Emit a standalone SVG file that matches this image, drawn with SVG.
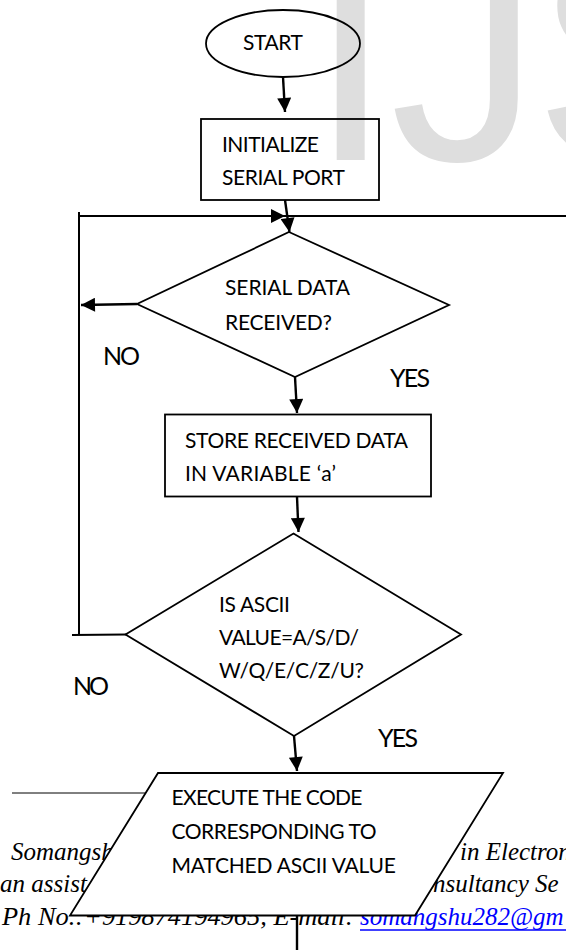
<svg xmlns="http://www.w3.org/2000/svg" width="566" height="950" viewBox="0 0 566 950">
  <style>
    .shape { fill: none; stroke: #000; stroke-width: 1.8; }
    .io { fill: #fff; stroke: #000; stroke-width: 1.8; stroke-linejoin: miter; }
    .wire { fill: none; stroke: #000; stroke-width: 2.4; }
    .loop { fill: none; stroke: #000; stroke-width: 2; }
    .lbl { font-family: Lato, "Open Sans", "Liberation Sans", sans-serif; font-size: 21px; fill: #000; }
    .tag { font-family: Lato, "Open Sans", "Liberation Sans", sans-serif; font-size: 25px; fill: #000; }
    .note { font-family: "Liberation Serif", "DejaVu Serif", serif; font-style: italic; font-size: 25px; fill: #000; }
    .mark { font-family: "Liberation Sans", Arial, sans-serif; font-size: 300px; fill: #dedede; }
  </style>
  <defs>
    <marker id="arrow" viewBox="0 0 10 10" refX="10" refY="5" markerWidth="15" markerHeight="14" markerUnits="userSpaceOnUse" orient="auto">
      <path d="M0,0 L10,5 L0,10 z" fill="#000"/>
    </marker>
  </defs>

  <rect x="0" y="0" width="566" height="950" fill="#fff"/>

  <!-- background watermark -->
  <g id="watermark">
    <text class="mark" x="309 390 534" y="160">IJS</text>
  </g>

  <!-- page footnote behind the flowchart -->
  <g id="footnote">
    <line x1="12" y1="793" x2="170" y2="793" stroke="#000" stroke-width="1"/>
    <text class="note" x="11" y="860">Somangsh</text>
    <text class="note" x="460" y="860">in Electron</text>
    <text class="note" x="0" y="892">an assist</text>
    <text class="note" x="433" y="892">nsultancy Se</text>
    <text class="note" x="2" y="925" textLength="352" lengthAdjust="spacingAndGlyphs">Ph No.:+919874194965, E-mail:</text>
    <text class="note" x="360" y="925" style="fill:#0000ff">somangshu282@gm</text>
    <line x1="360" y1="930" x2="566" y2="930" stroke="#0000ff" stroke-width="1.3"/>
  </g>

  <!-- connectors -->
  <g id="connectors">
    <line class="wire" x1="283" y1="77" x2="285" y2="112" marker-end="url(#arrow)"/>
    <line class="wire" x1="285" y1="200" x2="289.5" y2="232" marker-end="url(#arrow)"/>
    <path class="loop" d="M79,212 V216 H285" marker-end="url(#arrow)"/>
    <path class="loop" d="M285,216 H566"/>
    <line class="wire" x1="137" y1="304" x2="81" y2="305" marker-end="url(#arrow)"/>
    <line class="wire" x1="295" y1="377" x2="297" y2="413" marker-end="url(#arrow)"/>
    <line class="wire" x1="297" y1="497" x2="298.5" y2="532" marker-end="url(#arrow)"/>
    <path class="loop" d="M126,634.5 L72,635"/>
    <path class="loop" d="M79,635 V212"/>
    <line class="wire" x1="294" y1="736" x2="297" y2="771" marker-end="url(#arrow)"/>
    <line class="wire" x1="297" y1="915.5" x2="297" y2="950"/>
    <text class="tag" x="103" y="365" textLength="37">NO</text>
    <text class="tag" x="390" y="387" textLength="40">YES</text>
    <text class="tag" x="73" y="695" textLength="36">NO</text>
    <text class="tag" x="378" y="747" textLength="40">YES</text>
  </g>

  <g id="start">
    <ellipse class="shape" cx="283" cy="43.5" rx="77" ry="33.5"/>
    <text class="lbl" x="243" y="50" textLength="60">START</text>
  </g>

  <g id="init-serial">
    <rect class="shape" x="201" y="119" width="178" height="81"/>
    <text class="lbl" x="222" y="152" textLength="97">INITIALIZE</text>
    <text class="lbl" x="222" y="185" textLength="123">SERIAL PORT</text>
  </g>

  <g id="data-received">
    <polygon class="shape" points="289,232 449,305 295,377 137,304"/>
    <text class="lbl" x="225" y="295" textLength="125">SERIAL DATA</text>
    <text class="lbl" x="225" y="330" textLength="107">RECEIVED?</text>
  </g>

  <g id="store-data">
    <rect class="shape" x="165" y="414.5" width="266" height="82"/>
    <text class="lbl" x="185" y="448" textLength="223">STORE RECEIVED DATA</text>
    <text class="lbl" x="185" y="481" textLength="151">IN VARIABLE ‘a’</text>
  </g>

  <g id="ascii-check">
    <polygon class="shape" points="293.5,533.5 461,634.5 294,736 125.5,634.5"/>
    <text class="lbl" x="219" y="612" textLength="71">IS ASCII</text>
    <text class="lbl" x="219" y="645" textLength="140">VALUE=A/S/D/</text>
    <text class="lbl" x="219" y="678" textLength="145">W/Q/E/C/Z/U?</text>
  </g>

  <g id="execute-code">
    <polygon class="io" points="158,773 503,773 415,915.5 70,915.5"/>
    <text class="lbl" x="171.5" y="805" textLength="191">EXECUTE THE CODE</text>
    <text class="lbl" x="171.5" y="838.5" textLength="205">CORRESPONDING TO</text>
    <text class="lbl" x="171.5" y="872.5" textLength="224.5">MATCHED ASCII VALUE</text>
  </g>
</svg>
